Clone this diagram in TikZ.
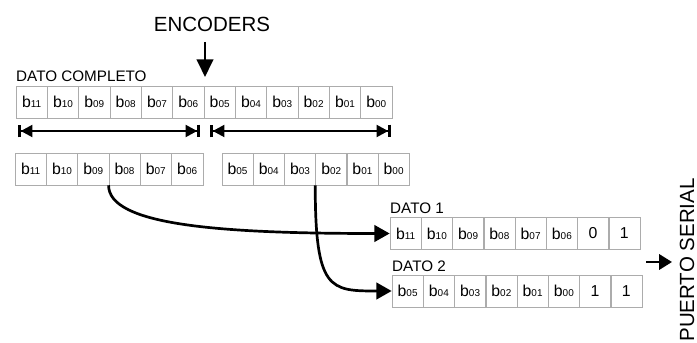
\documentclass[tikz,border=0pt]{standalone}
\usepackage{fontspec}
\setmainfont{Liberation Sans}
\usepackage{tikz}
\usetikzlibrary{arrows.meta}

% bit label: a "b" followed by a small index
\newcommand{\bitlbl}[1]{b{\fontsize{8.5}{9}\selectfont #1}}

\tikzset{
  cell/.style={draw=gray!65, line width=0.5pt, minimum width=0.94cm,
    minimum height=0.96cm, inner sep=0pt, font=\fontsize{13.5}{14}\selectfont},
  title/.style={inner sep=0pt, font=\fontsize{13}{14}\selectfont},
  big/.style={inner sep=0pt, font=\fontsize{17.5}{19}\selectfont},
  link/.style={line width=2.3pt, -{Triangle[length=13pt,width=14pt]}},
  span/.style={line width=2.3pt,
    {Bar[width=11pt,line width=2.3pt]Triangle[length=10pt,width=10pt]}-{Triangle[length=10pt,width=10pt]Bar[width=11pt,line width=2.3pt]}},
}

\begin{document}
\begin{tikzpicture}[x=0.03cm, y=-0.03cm]
\useasboundingbox (0,0) rectangle (697,343);

% input word
\node[big] (enc) at (212,24) {ENCODERS};
\coordinate (encfrom) at (205,42);
\coordinate (encto) at (205,77);
\draw[line width=2.3pt, -{Triangle[length=15pt,width=14pt]}] (encfrom) -- (encto);

\node[title, anchor=base west] (full) at (16,82) {DATO COMPLETO};
\foreach \b [count=\i from 0] in {11,10,09,08,07,06,05,04,03,02,01,00}
  \node[cell] (a\b) at ({16+31.33*(\i+0.5)},102) {\bitlbl{\b}};

% the two halves
\coordinate (hl1) at (18,131);
\coordinate (hl2) at (200,131);
\coordinate (hr1) at (210,131);
\coordinate (hr2) at (391,131);
\draw[span] (hl1) -- (hl2);
\draw[span] (hr1) -- (hr2);

\foreach \b [count=\i from 0] in {11,10,09,08,07,06}
  \node[cell] (l\b) at ({15+31.3*(\i+0.5)},169) {\bitlbl{\b}};
\foreach \b [count=\i from 0] in {05,04,03,02,01,00}
  \node[cell] (r\b) at ({222+31.2*(\i+0.5)},169) {\bitlbl{\b}};

% output words
\node[title, anchor=base west] (dato1) at (390,214) {DATO 1};
\foreach \t [count=\i from 0] in {\bitlbl{11},\bitlbl{10},\bitlbl{09},\bitlbl{08},\bitlbl{07},\bitlbl{06},0,1}
  \node[cell] (da\i) at ({390+31.25*(\i+0.5)},233.5) {\t};

\node[title, anchor=base west] (dato2) at (392,272) {DATO 2};
\foreach \t [count=\i from 0] in {\bitlbl{05},\bitlbl{04},\bitlbl{03},\bitlbl{02},\bitlbl{01},\bitlbl{00},1,1}
  \node[cell] (db\i) at ({392+31.25*(\i+0.5)},291) {\t};

\draw[link] (l08.south west) .. controls +(0,40) and +(-170,0) .. (da0.west);
\draw[link] (r02.south west) .. controls +(0,105) and +(-62,0) .. (db0.west);

% serial port
\node[big, rotate=90] (port) at (687,260) {PUERTO SERIAL};
\coordinate (serfrom) at (646,262);
\coordinate (serto) at (672,262);
\draw[line width=2.3pt, -{Triangle[length=11pt,width=13pt]}] (serfrom) -- (serto);
\end{tikzpicture}
\end{document}
